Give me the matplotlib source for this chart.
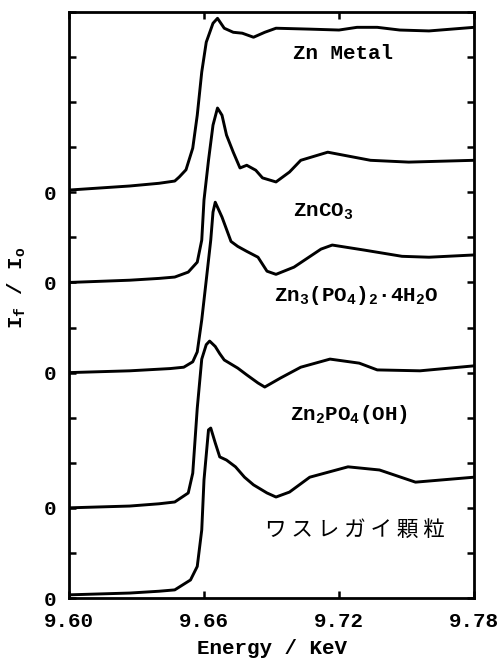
import numpy as np
import matplotlib.pyplot as plt

plt.rcParams['font.family'] = ['Liberation Mono', 'DejaVu Sans']
plt.rcParams['mathtext.default'] = 'regular'

# XANES spectra: energy (keV) and intensity above each curve's own zero
zn_metal_e = [9.600, 9.627, 9.640, 9.647, 9.649, 9.652, 9.655, 9.657, 9.659, 9.661, 9.664,
              9.666, 9.669, 9.673, 9.677, 9.682, 9.687, 9.692, 9.707, 9.720, 9.728, 9.737,
              9.747, 9.760, 9.780]
zn_metal_i = [0.05, 0.14, 0.20, 0.25, 0.34, 0.50, 0.98, 1.71, 2.67, 3.33, 3.75,
              3.86, 3.64, 3.55, 3.53, 3.44, 3.55, 3.64, 3.62, 3.60, 3.66, 3.66,
              3.60, 3.58, 3.66]

znco3_e = [9.600, 9.627, 9.640, 9.647, 9.653, 9.657, 9.659, 9.660, 9.662, 9.664, 9.666,
           9.668, 9.670, 9.673, 9.676, 9.679, 9.683, 9.686, 9.692, 9.698, 9.703, 9.715,
           9.734, 9.751, 9.780]
znco3_i = [0.00, 0.05, 0.09, 0.12, 0.23, 0.45, 0.94, 1.83, 2.71, 3.49, 3.87,
           3.71, 3.27, 2.89, 2.54, 2.60, 2.49, 2.32, 2.23, 2.45, 2.71, 2.89,
           2.71, 2.67, 2.71]

zn3po4_e = [9.600, 9.627, 9.645, 9.651, 9.655, 9.657, 9.659, 9.661, 9.663, 9.664, 9.665,
            9.668, 9.672, 9.675, 9.679, 9.684, 9.688, 9.692, 9.700, 9.712, 9.717, 9.731,
            9.748, 9.760, 9.780]
zn3po4_i = [0.00, 0.04, 0.09, 0.12, 0.24, 0.46, 1.17, 2.05, 2.94, 3.56, 3.78,
            3.45, 2.91, 2.80, 2.69, 2.56, 2.25, 2.18, 2.34, 2.74, 2.83, 2.72,
            2.58, 2.56, 2.61]

zn2po4oh_e = [9.600, 9.627, 9.640, 9.647, 9.653, 9.655, 9.657, 9.659, 9.661, 9.6625, 9.665,
              9.667, 9.669, 9.675, 9.679, 9.684, 9.687, 9.694, 9.703, 9.716, 9.729, 9.737,
              9.756, 9.780]
zn2po4oh_i = [0.00, 0.04, 0.09, 0.13, 0.33, 0.77, 2.21, 3.30, 3.62, 3.70, 3.58,
              3.42, 3.28, 3.10, 2.95, 2.77, 2.68, 2.88, 3.12, 3.30, 3.21, 3.06,
              3.04, 3.15]

granule_e = [9.600, 9.627, 9.640, 9.647, 9.654, 9.657, 9.659, 9.660, 9.662, 9.663, 9.665,
             9.667, 9.670, 9.674, 9.678, 9.682, 9.688, 9.692, 9.698, 9.707, 9.724, 9.738,
             9.754, 9.780]
granule_i = [0.07, 0.11, 0.15, 0.18, 0.40, 0.70, 1.51, 2.62, 3.73, 3.77, 3.44,
             3.13, 3.06, 2.91, 2.68, 2.51, 2.33, 2.24, 2.35, 2.68, 2.91, 2.84,
             2.57, 2.68]

offsets = [9, 7, 5, 2, 0]
names = ['Zn Metal', 'ZnCO$_{3}$', 'Zn$_{3}$(PO$_{4}$)$_{2}$·4H$_{2}$O',
         'Zn$_{2}$PO$_{4}$(OH)', 'ワ ス レ ガ イ 顆 粒']
label_x = [9.7218, 9.7129, 9.7276, 9.7244, 9.7271]
label_y = [12.09, 8.56, 6.72, 4.06, 1.51]

xticks = [9.60, 9.66, 9.72, 9.78]
xticklabels = ['9.60', '9.66', '9.72', '9.78']
zero_ticks = [0, 2, 5, 7, 9]

fig = plt.figure(figsize=(4.98, 6.66), dpi=100)
ax = fig.add_axes([69 / 498, 1 - 598 / 666, 405 / 498, 586 / 666])

spectra = [(zn_metal_e, zn_metal_i), (znco3_e, znco3_i), (zn3po4_e, zn3po4_i),
           (zn2po4oh_e, zn2po4oh_i), (granule_e, granule_i)]
for (e, i), off in zip(spectra, offsets):
    ax.plot(e, np.array(i) + off, color='black', lw=2.1, solid_joinstyle='round')

for name, lx, ly in zip(names, label_x, label_y):
    if name.startswith('ワ'):
        ax.text(lx, ly, name, ha='center', va='center', fontsize=15.5,
                family=['Noto Sans CJK JP', 'DejaVu Sans'])
    else:
        ax.text(lx, ly, name, ha='center', va='center', fontsize=15,
                family=['Liberation Mono', 'DejaVu Sans'], fontweight='bold')

ax.set_xlim(9.60, 9.78)
ax.set_ylim(0, 13)
ax.set_xticks(xticks)
ax.set_xticklabels(xticklabels)
ax.set_yticks(range(14))
ax.set_yticklabels(['0' if t in zero_ticks else '' for t in range(14)])
ax.tick_params(direction='in', length=5, width=1.8, top=True, right=True,
               labelsize=15)
ax.tick_params(axis='x', pad=10)
ax.tick_params(axis='y', pad=9)
for lab in ax.get_xticklabels() + ax.get_yticklabels():
    lab.set_fontweight('bold')
for sp in ax.spines.values():
    sp.set_linewidth(2.0)

fig.text(0.5 * (69 + 474) / 498, 1 - 648 / 666, 'Energy / KeV', ha='center', va='center',
         fontsize=15, fontweight='bold')
fig.text(17 / 498, 1 - 288 / 666, 'I$_{f}$ / I$_{o}$', ha='center', va='center',
         rotation=90, fontsize=15, fontweight='bold')

fig.savefig('out.png', dpi=100)
